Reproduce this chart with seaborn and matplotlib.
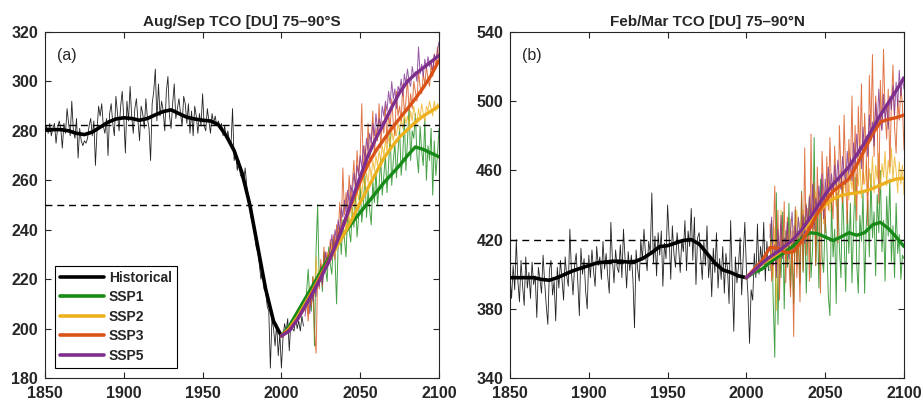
import matplotlib
matplotlib.use("Agg")
import matplotlib.pyplot as plt
import seaborn as sns
import pandas as pd
from matplotlib.lines import Line2D

sns.set_style("ticks")
plt.rcParams['font.family'] = ['Liberation Sans', 'DejaVu Sans']

# ---------------- years ----------------
hist_years = list(range(1850, 2015))
fut_years = list(range(2015, 2101))
hist_smooth_years = list(range(1850, 2001, 5))
fut_smooth_years = list(range(2000, 2101, 5))

scenarios = ["SSP1", "SSP2", "SSP3", "SSP5"]
colors = {"Historical": "#000000", "SSP1": "#178A17", "SSP2": "#EDB120",
          "SSP3": "#D95319", "SSP5": "#7E2F8E"}

# ---------------- panel (a): Aug/Sep TCO 75-90S ----------------
a_hist = [
    280, 282, 279, 283, 278, 281, 283, 275, 281, 284,
    281, 273, 283, 279, 289, 283, 278, 292, 280, 277,
    285, 269, 281, 276, 274, 276, 275, 277, 282, 285,
    278, 284, 266, 280, 290, 286, 291, 282, 279, 285,
    270, 287, 291, 283, 278, 294, 287, 280, 290, 296,
    285, 271, 292, 284, 298, 286, 279, 289, 293, 284,
    276, 290, 287, 281, 293, 285, 281, 268, 291, 296,
    305, 284, 299, 286, 292, 288, 280, 296, 302, 286,
    281, 291, 299, 285, 289, 293, 287, 282, 294, 291,
    283, 291, 279, 288, 278, 290, 286, 279, 287, 282,
    295, 282, 280, 289, 284, 279, 287, 283, 286, 282,
    284, 281, 283, 278, 282, 277, 280, 276, 274, 289,
    268, 271, 264, 268, 262, 261, 259, 265, 258, 251,
    248, 244, 242, 238, 233, 231, 226, 220, 223, 216,
    215, 209, 207, 184, 204, 200, 193, 202, 189, 198,
    184, 196, 202, 199, 204, 191, 203, 200, 199, 205,
    200, 203, 199, 205, 201]
a_hist_smooth = [280.5, 280.5, 280.5, 280, 279, 278.5, 279.5, 281.5, 283.5, 284.8,
                 285.3, 285, 284.3, 285, 286.5, 287.8, 288.5, 287, 285.5, 284.8,
                 284.3, 284, 282.5, 278, 272, 263, 250, 233, 216, 203, 197]
a_fut = {
    "SSP1": [208, 215, 224, 212, 207, 221, 193, 232, 250, 218,
             226, 215, 231, 224, 219, 233, 226, 222, 236, 229,
             210, 234, 241, 230, 244, 236, 229, 247, 240, 235,
             249, 241, 254, 237, 245, 258, 243, 250, 262, 245,
             256, 248, 242, 260, 251, 264, 250, 258, 269, 254,
             262, 270, 255, 266, 279, 258, 268, 275, 261, 272,
             281, 262, 270, 285, 264, 276, 290, 268, 280, 277,
             287, 270, 263, 282, 272, 266, 285, 260, 274, 268,
             281, 254, 276, 262, 270, 281],
    "SSP2": [208, 213, 206, 217, 211, 220, 213, 229, 218, 224,
             219, 226, 222, 230, 225, 231, 228, 235, 230, 237,
             232, 239, 235, 242, 237, 245, 240, 247, 243, 250,
             246, 253, 249, 256, 252, 259, 254, 261, 257, 263,
             259, 266, 261, 268, 264, 270, 266, 272, 268, 274,
             270, 276, 272, 278, 274, 280, 276, 281, 278, 283,
             280, 285, 281, 287, 283, 286, 282, 288, 284, 290,
             286, 283, 289, 285, 291, 287, 284, 290, 288, 292,
             289, 286, 292, 288, 291, 290],
    "SSP3": [207, 212, 203, 216, 209, 221, 199, 190, 222, 216,
             228, 217, 233, 223, 231, 226, 236, 229, 238, 228,
             242, 236, 251, 241, 265, 246, 255, 248, 262, 251,
             259, 268, 254, 272, 262, 270, 291, 262, 274, 265,
             283, 268, 276, 288, 270, 281, 276, 291, 273, 284,
             279, 290, 275, 287, 281, 293, 283, 278, 296, 286,
             290, 284, 299, 287, 292, 301, 288, 295, 289, 300,
             296, 292, 304, 298, 295, 303, 299, 306, 301, 298,
             307, 302, 311, 305, 314, 309],
    "SSP5": [205, 210, 214, 206, 216, 211, 219, 213, 222, 217,
             225, 218, 224, 231, 226, 229, 232, 238, 231, 240,
             236, 244, 239, 249, 245, 252, 247, 256, 251, 258,
             255, 263, 258, 266, 262, 270, 265, 274, 268, 277,
             272, 279, 275, 283, 278, 287, 280, 285, 282, 290,
             286, 292, 288, 296, 291, 300, 293, 297, 289, 298,
             296, 301, 294, 303, 299, 305, 300, 298, 306, 302,
             304, 300, 314, 303, 307, 302, 309, 305, 310, 306,
             308, 304, 311, 309, 312, 316],
}
a_fut_smooth = {
    "SSP1": [197, 201, 206.5, 212, 217.5, 223, 228.5, 233.5, 238.5, 243, 247,
             251, 255, 259, 262.5, 266, 270, 273.5, 272.5, 271, 269.5],
    "SSP2": [197, 200, 204.5, 210, 215.5, 221.5, 227, 233, 238.5, 244.5, 251,
             257, 263, 269, 273.5, 277.5, 280.5, 283.5, 286, 288, 290],
    "SSP3": [197, 199.5, 203.5, 209, 215, 221, 227.5, 235, 243, 251.5, 259.5,
             266.5, 272, 276.5, 281, 285, 289, 293, 297.5, 302.5, 308.5],
    "SSP5": [197, 199, 203.5, 209, 214.5, 220.5, 227, 234.5, 243, 252.5, 261.5,
             270, 277, 283, 289.5, 295.5, 300, 303, 305.5, 308, 310.5],
}
a_refs = [282.5, 250]

# ---------------- panel (b): Feb/Mar TCO 75-90N ----------------
b_hist = [
    399, 386, 405, 391, 420, 396, 384, 408, 393, 382,
    410, 392, 401, 386, 407, 394, 399, 375, 404, 397,
    389, 411, 395, 382, 371, 402, 408, 388, 396, 373,
    404, 392, 408, 397, 385, 410, 399, 393, 426, 401,
    388, 405, 412, 396, 376, 415, 400, 409, 390, 380,
    411, 398, 414, 402, 393, 416, 405, 410, 397, 419,
    403, 412, 399, 389, 430, 408, 395, 414, 404, 401,
    417, 398, 426, 409, 392, 413, 402, 411, 397, 369,
    414, 403, 396, 420, 408, 426, 411, 402, 419, 412,
    447, 406, 422, 399, 424, 411, 425, 393, 418, 409,
    440, 421, 397, 428, 412, 404, 424, 415, 401, 420,
    413, 431, 402, 425, 416, 438, 408, 433, 394, 421,
    424, 410, 397, 419, 405, 428, 398, 411, 387, 415,
    401, 424, 392, 409, 397, 416, 389, 412, 403, 383,
    431, 399, 367, 410, 395, 405, 421, 388, 411, 430,
    403, 388, 360, 391, 385, 412, 398, 429, 400, 416,
    405, 430, 396, 419, 402]
b_hist_smooth = [398, 398, 398, 398, 397, 396.5, 398, 400, 402, 403.5,
                 405, 406.5, 407, 407.5, 407.5, 407, 407.5, 409.5, 412.5, 416,
                 416.5, 418, 419.5, 420, 417.5, 412, 406.5, 402.5, 401, 399, 398]
b_fut = {
    "SSP1": [402, 431, 385, 352, 447, 371, 412, 398, 436, 380,
             425, 404, 441, 392, 418, 383, 437, 406, 425, 395,
             448, 401, 433, 389, 426, 444, 398, 415, 479, 405,
             438, 392, 455, 410, 401, 433, 418, 387, 376, 442,
             410, 426, 383, 447, 415, 398, 452, 421, 390, 437,
             412, 441, 395, 428, 456, 406, 389, 434, 419, 448,
             389, 427, 443, 410, 458, 421, 436, 399, 446, 424,
             460, 413, 431, 396, 445, 422, 455, 407, 428, 398,
             441, 412, 423, 397, 411, 409],
    "SSP2": [404, 418, 398, 427, 379, 415, 406, 437, 411, 420,
             408, 426, 414, 432, 401, 428, 419, 437, 412, 430,
             418, 437, 426, 441, 422, 446, 431, 439, 425, 448,
             433, 447, 438, 452, 429, 449, 441, 455, 436, 451,
             442, 456, 439, 453, 447, 460, 441, 455, 448, 462,
             443, 457, 449, 463, 440, 458, 451, 466, 444, 459,
             452, 465, 446, 461, 450, 468, 447, 463, 455, 470,
             449, 464, 456, 471, 451, 466, 458, 473, 454, 468,
             460, 447, 465, 452, 463, 446],
    "SSP3": [429, 396, 419, 451, 402, 437, 385, 428, 410, 442,
             395, 433, 408, 387, 425, 364, 439, 398, 421, 384,
             447, 402, 473, 411, 438, 396, 481, 424, 453, 405,
             462, 430, 389, 471, 448, 424, 468, 437, 479, 445,
             432, 474, 451, 418, 486, 460, 441, 492, 455, 429,
             478, 459, 503, 447, 486, 431, 497, 468, 510, 452,
             493, 471, 428, 515, 482, 527, 468, 503, 489, 441,
             512, 484, 530, 493, 478, 507, 462, 498, 521, 485,
             470, 501, 489, 508, 498, 472],
    "SSP5": [421, 433, 405, 417, 398, 426, 412, 434, 409, 421,
             418, 430, 409, 425, 436, 414, 428, 419, 433, 421,
             421, 434, 418, 440, 427, 445, 431, 452, 426, 444,
             436, 451, 439, 458, 432, 455, 444, 462, 449, 458,
             447, 463, 451, 466, 455, 449, 468, 459, 452, 471,
             458, 467, 454, 476, 463, 481, 468, 474, 461, 485,
             471, 480, 468, 492, 477, 488, 474, 499, 485, 507,
             490, 483, 504, 489, 498, 484, 503, 495, 509, 492,
             511, 497, 518, 503, 514, 507],
}
b_fut_smooth = {
    "SSP1": [398, 401, 403, 407, 410, 413, 416.5, 420.5, 424, 423.5, 421.5,
             419.5, 421.5, 424, 422.5, 424, 428.5, 430, 426.5, 421.5, 416],
    "SSP2": [398, 402, 406, 409, 412, 416, 420.5, 425, 429.5, 435, 440,
             443.5, 445.5, 446.5, 447, 448, 449.5, 451.5, 453.5, 455, 455.5],
    "SSP3": [398, 403, 408, 415.5, 415, 412.5, 413, 419, 426, 435, 442,
             448, 451.5, 455, 463, 472, 481, 488, 489.5, 490.5, 492],
    "SSP5": [398, 402, 406.5, 410, 413, 416.5, 420.5, 425.5, 432, 439, 446,
             452, 457, 462, 469, 476, 484, 492, 499, 506, 513.5],
}
b_refs = [419.5, 406.5]

panels = [
    dict(title="Aug/Sep TCO [DU] 75\u201390\u00b0S", label="(a)", hist=a_hist,
         hist_smooth=a_hist_smooth, fut=a_fut, fut_smooth=a_fut_smooth, refs=a_refs,
         ylim=(180, 320), yticks=list(range(180, 321, 20))),
    dict(title="Feb/Mar TCO [DU] 75\u201390\u00b0N", label="(b)", hist=b_hist,
         hist_smooth=b_hist_smooth, fut=b_fut, fut_smooth=b_fut_smooth, refs=b_refs,
         ylim=(340, 540), yticks=list(range(340, 541, 40))),
]

fig = plt.figure(figsize=(9.22, 4.04), dpi=100)
W, H = 922, 404
axes = [fig.add_axes([45 / W, 1 - 378 / H, 394 / W, 346 / H]),
        fig.add_axes([510 / W, 1 - 378 / H, 394 / W, 346 / H])]

for ax, p in zip(axes, panels):
    # thin annual lines
    sns.lineplot(x=hist_years, y=p["hist"], ax=ax, color="#222222", lw=0.6, legend=False)
    for s in scenarios:
        sns.lineplot(x=fut_years, y=p["fut"][s], ax=ax, color=colors[s], lw=0.7,
                     alpha=0.8, legend=False)
    # reference dashed lines
    for r in p["refs"]:
        ax.axhline(r, color="black", lw=1.0, ls=(0, (5, 3.5)), zorder=3)
    # smoothed thick lines
    sns.lineplot(x=hist_smooth_years, y=p["hist_smooth"], ax=ax, color="black",
                 lw=2.6, legend=False, zorder=5)
    for s in scenarios:
        sns.lineplot(x=fut_smooth_years, y=p["fut_smooth"][s], ax=ax, color=colors[s],
                     lw=2.4, legend=False, zorder=5)

    ax.set_xlim(1850, 2100)
    ax.set_ylim(*p["ylim"])
    ax.set_xticks(list(range(1850, 2101, 50)))
    ax.set_yticks(p["yticks"])
    ax.set_xlabel("")
    ax.set_ylabel("")
    ax.tick_params(direction="in", top=True, right=True, length=4, width=0.8,
                   labelsize=11.5, colors="#262626")
    ax.tick_params(axis="x", pad=6)
    ax.tick_params(axis="y", pad=5)
    for lab in ax.get_xticklabels() + ax.get_yticklabels():
        lab.set_fontweight("bold")
    for sp in ax.spines.values():
        sp.set_visible(True)
        sp.set_color("#262626")
        sp.set_linewidth(0.8)
    ax.set_title(p["title"], fontsize=11, fontweight="bold", pad=4)
    ax.text(0.03, 0.955, p["label"], transform=ax.transAxes, fontsize=11.5,
            va="top", ha="left")

handles = [Line2D([0], [0], color=colors[k], lw=2.6) for k in ["Historical"] + scenarios]
leg = axes[0].legend(handles, ["Historical"] + scenarios, loc="lower left",
                     bbox_to_anchor=(0.025, 0.03), borderaxespad=0, frameon=True,
                     fancybox=False, edgecolor="black", framealpha=1,
                     handlelength=3.2, handletextpad=0.35, labelspacing=0.4,
                     borderpad=0.35, prop={"weight": "bold", "size": 10})
leg.get_frame().set_linewidth(0.8)

fig.savefig("out.png", dpi=100)
